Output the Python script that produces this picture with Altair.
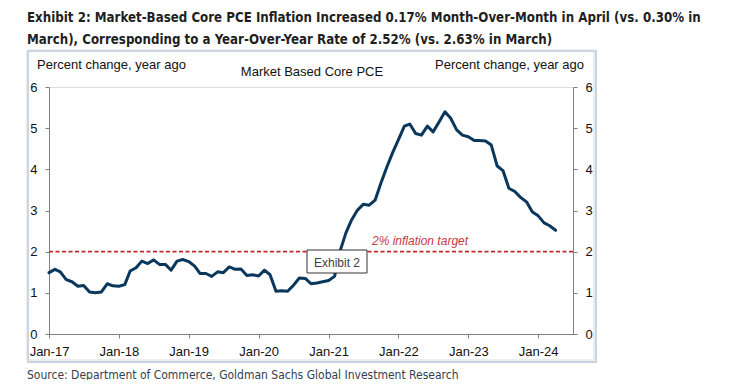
import altair as alt
import pandas as pd

# ---- data ----
months = pd.date_range("2017-01-01", periods=88, freq="MS").strftime("%Y-%m-%d").tolist()
core_pce = [
    1.49, 1.57, 1.51, 1.32, 1.27, 1.16, 1.18, 1.02, 1.00, 1.02, 1.22, 1.17,   # 2017
    1.16, 1.20, 1.53, 1.61, 1.77, 1.71, 1.80, 1.69, 1.69, 1.55, 1.77, 1.81,   # 2018
    1.76, 1.65, 1.47, 1.47, 1.40, 1.51, 1.49, 1.63, 1.57, 1.58, 1.42, 1.44,   # 2019
    1.41, 1.55, 1.44, 1.04, 1.05, 1.04, 1.18, 1.36, 1.35, 1.22, 1.24, 1.27,   # 2020
    1.30, 1.40, 2.00, 2.45, 2.77, 3.01, 3.15, 3.13, 3.25, 3.66, 4.05, 4.40,   # 2021
    4.72, 5.05, 5.10, 4.87, 4.83, 5.05, 4.91, 5.15, 5.40, 5.24, 4.96, 4.83,   # 2022
    4.79, 4.70, 4.70, 4.69, 4.59, 4.08, 3.97, 3.54, 3.46, 3.32, 3.21, 2.97,   # 2023
    2.87, 2.70, 2.63, 2.52,                                                   # 2024
]
tick_years = [2017, 2018, 2019, 2020, 2021, 2022, 2023, 2024]
y_ticks = [0, 1, 2, 3, 4, 5, 6]
target = [2]

title_lines = [
    "Exhibit 2: Market-Based Core PCE Inflation Increased 0.17% Month-Over-Month in April (vs. 0.30% in",
    "March), Corresponding to a Year-Over-Year Rate of 2.52% (vs. 2.63% in March)",
]
source_text = "Source: Department of Commerce, Goldman Sachs Global Investment Research"

df = pd.DataFrame({"date": months, "pce": core_pce})
df_target = pd.DataFrame({"target": target})

SANS = "Liberation Sans"
NARROW = "'DejaVu Sans Condensed', sans-serif"
NAVY = "#0a375c"
RED = "#c0282d"
AXIS_GRAY = "#808080"

x_scale = alt.Scale(
    type="utc",
    domain=[alt.DateTime(year=2017, month=1, date=1, utc=True),
            alt.DateTime(year=2024, month=7, date=1, utc=True)],
)
x_axis = alt.Axis(
    title=None, format="%b-%y",
    values=[alt.DateTime(year=y, month=1, date=1, utc=True) for y in tick_years],
    labelFont=SANS, labelFontSize=13, labelColor="#111111",
    domainColor=AXIS_GRAY, tickColor=AXIS_GRAY, tickSize=4, labelPadding=7,
    grid=False, labelFlush=False, labelOverlap=False,
)
y_scale = alt.Scale(domain=[0, 6], nice=False, zero=True)


def y_axis(orient):
    return alt.Axis(
        orient=orient, title=None, values=y_ticks, format="d",
        labelFont=SANS, labelFontSize=13, labelColor="#111111",
        domainColor=AXIS_GRAY, tickColor=AXIS_GRAY, tickSize=4, labelPadding=8,
        grid=False,
    )


base = alt.Chart(df)

line = base.mark_line(color=NAVY, strokeWidth=3, strokeJoin="round", strokeCap="round").encode(
    x=alt.X("date:T", scale=x_scale, axis=x_axis),
    y=alt.Y("pce:Q", scale=y_scale, axis=y_axis("left")),
)

rule = alt.Chart(df_target).mark_rule(color=RED, strokeWidth=1.8, strokeDash=[4, 2.5]).encode(
    y=alt.Y("target:Q", scale=y_scale, axis=y_axis("right")),
)


def text_layer(txt, x, y, align="left", **kw):
    return alt.Chart(pd.DataFrame({"t": [txt]})).mark_text(
        align=align, baseline="alphabetic", **kw
    ).encode(text="t:N", x=alt.value(x), y=alt.value(y))


frame_shadow = alt.Chart(pd.DataFrame({"a": [0]})).mark_rect(
    fillOpacity=0, stroke="#c9d4e3", strokeWidth=2
).encode(x=alt.value(-21), x2=alt.value(547), y=alt.value(-36), y2=alt.value(275))
frame = alt.Chart(pd.DataFrame({"a": [0]})).mark_rect(
    fillOpacity=0, stroke="#d6dbe2", strokeWidth=1
).encode(x=alt.value(-22), x2=alt.value(545), y=alt.value(-37), y2=alt.value(273))

ex_box = alt.Chart(pd.DataFrame({"a": [0]})).mark_rect(
    fill="white", stroke="#333333", strokeWidth=1
).encode(x=alt.value(258), x2=alt.value(318), y=alt.value(163), y2=alt.value(186))

layers = [
    frame_shadow, frame,
    line, rule,
    ex_box,
    text_layer("Exhibit 2", 288, 180, align="center", font=SANS, fontSize=12, color="#404040"),
    text_layer("2% inflation target", 323, 158, font=SANS, fontSize=12, fontStyle="italic", color="#c8383e"),
    text_layer("Percent change, year ago", -12, -18.5, font=SANS, fontSize=13, color="#111111"),
    text_layer("Percent change, year ago", 535, -18.5, align="right", font=SANS, fontSize=13, color="#111111"),
    text_layer("Market Based Core PCE", 263, -11.5, align="center", font=SANS, fontSize=13, color="#111111"),
    text_layer(title_lines[0], -22, -65, font=NARROW, fontSize=13.2, fontWeight="bold", color="#1f1f1f"),
    text_layer(title_lines[1], -22, -43, font=NARROW, fontSize=13.2, fontWeight="bold", color="#1f1f1f"),
    text_layer(source_text, -22, 291.5, font=NARROW, fontSize=12, color="#333f50"),
]

chart = alt.layer(*layers).resolve_scale(y="independent").properties(
    width=524, height=247,
    autosize=alt.AutoSizeParams(type="none"),
    padding={"left": 41, "top": 79, "right": 148, "bottom": 46},
).configure_view(stroke=None).configure(background="white")

chart.save("out.html", embed_options={"renderer": "svg", "actions": False})
